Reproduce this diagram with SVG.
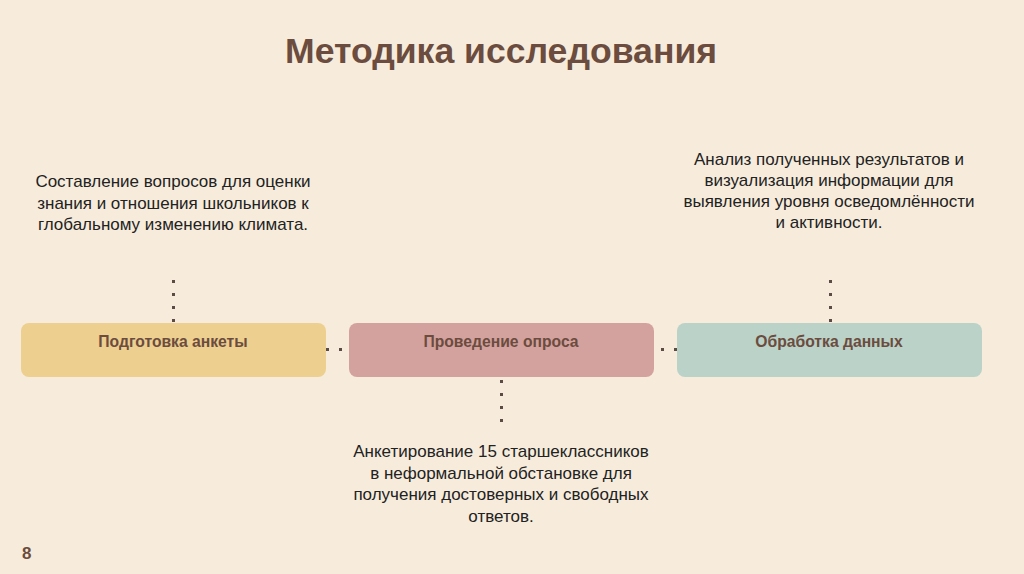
<svg xmlns="http://www.w3.org/2000/svg" width="1024" height="574" viewBox="0 0 1024 574">
<style>
.bg{fill:#F7ECDC}
.title{font-family:"Liberation Sans",Arial,sans-serif;font-weight:bold;font-size:35px;fill:#6B4C3E}
.box{stroke:none}
.lbl{font-family:"Liberation Sans",Arial,sans-serif;font-weight:bold;font-size:15.7px;fill:#6B4C3E;text-anchor:middle}
.txt{font-family:"Liberation Sans",Arial,sans-serif;font-size:17px;fill:#222;text-anchor:middle}
.dot{fill:#5C4B44}
.num{font-family:"Liberation Sans",Arial,sans-serif;font-weight:bold;font-size:17px;fill:#6B4C3E}
</style>
<rect class="bg" x="0" y="0" width="1024" height="574"/>
<text class="title" x="501" y="62.5" text-anchor="middle" textLength="432" lengthAdjust="spacingAndGlyphs">Методика исследования</text>

<g id="connectors">
  <rect class="dot" x="172" y="280" width="3" height="3"/>
  <rect class="dot" x="172" y="293" width="3" height="3"/>
  <rect class="dot" x="172" y="306" width="3" height="3"/>
  <rect class="dot" x="172" y="319" width="3" height="3"/>
  <rect class="dot" x="829" y="280" width="3" height="3"/>
  <rect class="dot" x="829" y="293" width="3" height="3"/>
  <rect class="dot" x="829" y="306" width="3" height="3"/>
  <rect class="dot" x="829" y="319" width="3" height="3"/>
  <rect class="dot" x="500" y="380" width="3" height="3"/>
  <rect class="dot" x="500" y="393" width="3" height="3"/>
  <rect class="dot" x="500" y="406" width="3" height="3"/>
  <rect class="dot" x="500" y="419" width="3" height="3"/>
  <rect class="dot" x="326" y="348" width="3" height="3"/>
  <rect class="dot" x="339" y="348" width="3" height="3"/>
  <rect class="dot" x="661" y="348" width="3" height="3"/>
  <rect class="dot" x="674" y="348" width="3" height="3"/>
</g>

<g id="node1">
  <rect class="box" x="21" y="323" width="305" height="54" rx="8" fill="#EDCF8F"/>
  <text class="lbl" x="173" y="346.5">Подготовка анкеты</text>
</g>
<g id="node2">
  <rect class="box" x="349" y="323" width="305" height="54" rx="8" fill="#D4A29E"/>
  <text class="lbl" x="501" y="346.5">Проведение опроса</text>
</g>
<g id="node3">
  <rect class="box" x="677" y="323" width="305" height="54" rx="8" fill="#BAD2C8"/>
  <text class="lbl" x="829" y="346.5">Обработка данных</text>
</g>

<g id="note1">
  <text class="txt" x="173" y="187">Составление вопросов для оценки</text>
  <text class="txt" x="173" y="208.5">знания и отношения школьников к</text>
  <text class="txt" x="173" y="230">глобальному изменению климата.</text>
</g>
<g id="note2">
  <text class="txt" x="501" y="457">Анкетирование 15 старшеклассников</text>
  <text class="txt" x="501" y="478.5">в неформальной обстановке для</text>
  <text class="txt" x="501" y="500">получения достоверных и свободных</text>
  <text class="txt" x="501" y="521.5">ответов.</text>
</g>
<g id="note3">
  <text class="txt" x="829" y="165">Анализ полученных результатов и</text>
  <text class="txt" x="829" y="186">визуализация информации для</text>
  <text class="txt" x="829" y="207">выявления уровня осведомлённости</text>
  <text class="txt" x="829" y="228">и активности.</text>
</g>
<text class="num" x="22" y="559">8</text>
</svg>
